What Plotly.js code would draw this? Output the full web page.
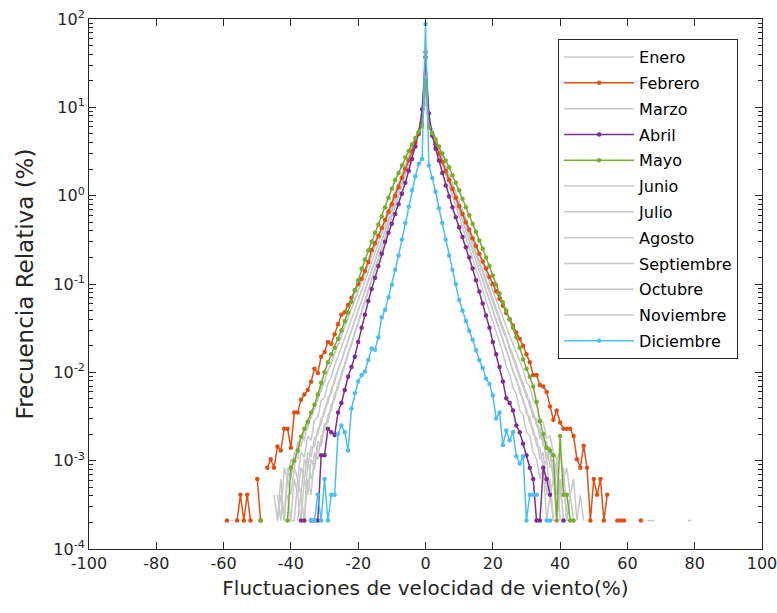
<!DOCTYPE html>
<html><head><meta charset="utf-8">
<script src="https://cdn.plot.ly/plotly-3.0.1.min.js"></script>
<style>html,body{margin:0;padding:0;background:#fff}#chart{width:777px;height:613px}</style>
</head><body><div id="chart"></div>
<script>
const n = null;
const N10 = [n,n,n,n,n,n,n,n,n,n];

// fluctuation bins (%)
const bins = [
 -60,-59,-58,-57,-56,-55,-54,-53,-52,-51,
 -50,-49,-48,-47,-46,-45,-44,-43,-42,-41,
 -40,-39,-38,-37,-36,-35,-34,-33,-32,-31,
 -30,-29,-28,-27,-26,-25,-24,-23,-22,-21,
 -20,-19,-18,-17,-16,-15,-14,-13,-12,-11,
 -10,-9,-8,-7,-6,-5,-4,-3,-2,-1,
 0,1,2,3,4,5,6,7,8,9,
 10,11,12,13,14,15,16,17,18,19,
 20,21,22,23,24,25,26,27,28,29,
 30,31,32,33,34,35,36,37,38,39,
 40,41,42,43,44,45,46,47,48,49,
 50,51,52,53,54,55,56,57,58,59,
 60,61,62,63,64,65,66,67,68,69,
 70,71,72,73,74,75,76,77,78,79,
 80
];

const months = ['Enero','Febrero','Marzo','Abril','Mayo','Junio','Julio','Agosto','Septiembre','Octubre','Noviembre','Diciembre'];

const enero = [
 ...N10,
 n,n,n,n,n,n,2.1e-4,4.1e-4,2.1e-4,6.2e-4,
 4.1e-4,8.3e-4,6.2e-4,1.24e-3,1.1e-3,1.9e-3,1.7e-3,2.9e-3,3.1e-3,4.8e-3,
 5.2e-3,7.5e-3,8.8e-3,0.012,0.015,0.019,0.0245,0.031,0.04,0.051,
 0.066,0.084,0.107,0.137,0.176,0.225,0.29,0.37,0.47,0.6,
 0.77,0.99,1.26,1.6,2.07,2.6,3.4,4.3,5.5,7.1,
 18,7.0,5.4,4.2,3.24,2.49,1.92,1.48,1.14,0.88,
 0.678,0.522,0.403,0.31,0.239,0.184,0.142,0.109,0.084,0.065,
 0.05,0.0385,0.0297,0.0229,0.0176,0.0136,0.0105,0.0081,0.0066,0.0046,
 0.0039,0.0027,0.0023,0.0015,0.0014,8.3e-4,1.04e-3,4.1e-4,6.2e-4,2.1e-4,
 4.1e-4,n,2.1e-4,2.1e-4,n,n,n,n,n,n,
 ...N10, ...N10, ...N10, n
];

const febrero = [
 n,2.1e-4,n,n,2.1e-4,4.1e-4,2.1e-4,4.1e-4,2.1e-4,n,
 6.2e-4,2.1e-4,n,8.3e-4,1.04e-3,8.3e-4,1.45e-3,1.3e-3,2.3e-3,2.3e-3,
 1.4e-3,3.5e-3,3.5e-3,4.9e-3,5.6e-3,6.3e-3,7.8e-3,0.011,0.0098,0.015,
 0.017,0.022,0.021,0.027,0.035,0.045,0.048,0.058,0.07,0.085,
 0.1,0.115,0.14,0.178,0.243,0.29,0.35,0.43,0.53,0.66,
 0.8,1.0,1.25,1.6,2.0,2.5,3.2,4.0,5.0,6.5,
 42,6.3,4.8,3.8,3.0,2.4,1.9,1.5,1.2,0.95,
 0.76,0.62,0.5,0.41,0.33,0.27,0.22,0.18,0.15,0.12,
 0.1,0.083,0.068,0.057,0.047,0.04,0.034,0.028,0.024,0.02,
 0.016,0.013,0.0093,0.0093,0.0072,0.0069,0.006,0.0041,0.0029,0.0037,
 0.0027,0.0023,0.0023,0.0023,0.0019,1.04e-3,8.3e-4,1.48e-3,8.3e-4,2.1e-4,
 6.2e-4,4.1e-4,6.2e-4,2.1e-4,4.1e-4,n,n,2.1e-4,2.1e-4,2.1e-4,
 n,n,n,n,2.1e-4,n,n,n,n,n,
 ...N10, n
];

const marzo = [
 ...N10,
 n,n,n,n,n,n,n,n,n,2.1e-4,
 2.1e-4,n,4.1e-4,2.1e-4,6.2e-4,4.1e-4,1.04e-3,8.3e-4,1.45e-3,1.5e-3,
 2.5e-3,2.8e-3,4.2e-3,5.1e-3,7.2e-3,9.2e-3,0.0121,0.016,0.0211,0.0278,
 0.0366,0.048,0.064,0.084,0.111,0.147,0.193,0.255,0.336,0.444,
 0.585,0.77,1.02,1.34,1.77,2.3,3.1,4.0,5.3,7.0,
 25,7.2,5.5,4.3,3.4,2.6,2.07,1.6,1.26,0.99,
 0.77,0.6,0.47,0.37,0.29,0.225,0.176,0.137,0.107,0.084,
 0.066,0.051,0.04,0.031,0.0245,0.019,0.015,0.0117,0.0091,0.0073,
 0.0054,0.0046,0.0032,0.0029,0.0019,0.0018,1.04e-3,1.24e-3,6.2e-4,8.3e-4,
 2.1e-4,n,n,n,n,n,n,n,n,n,
 ...N10, ...N10, ...N10, n
];

const abril = [
 ...N10,
 ...N10,
 n,n,n,2.1e-4,2.1e-4,n,2.1e-4,2.1e-4,2.1e-4,1.15e-3,
 1.15e-3,2.3e-3,2.1e-3,1.95e-3,3.5e-3,4.5e-3,6.3e-3,8.9e-3,0.0115,0.015,
 0.022,0.032,0.045,0.064,0.088,0.118,0.16,0.22,0.3,0.38,
 0.48,0.62,0.8,1.05,1.4,1.9,2.6,3.6,5.2,9.5,
 37,8.5,4.8,3.4,2.5,1.8,1.3,0.98,0.74,0.57,
 0.44,0.34,0.26,0.2,0.15,0.11,0.082,0.06,0.044,0.032,
 0.022,0.016,0.0115,0.0079,0.0051,0.0045,0.0037,0.0025,0.0021,0.00155,
 1.15e-3,8.3e-4,6.2e-4,2.1e-4,2.1e-4,8.3e-4,6.2e-4,4.1e-4,n,n,
 n,2.1e-4,n,n,n,n,n,n,n,n,
 ...N10, ...N10, ...N10, n
];

const mayo = [
 ...N10,
 n,2.1e-4,n,n,n,n,n,n,n,2.1e-4,
 8.3e-4,1.0e-3,1.3e-3,1.86e-3,2.3e-3,2.75e-3,3.5e-3,4.3e-3,5.6e-3,7.6e-3,
 0.01,0.013,0.016,0.019,0.024,0.03,0.038,0.048,0.063,0.085,
 0.11,0.15,0.19,0.24,0.3,0.38,0.47,0.58,0.74,0.95,
 1.2,1.5,1.8,2.2,2.7,3.2,3.8,4.5,5.3,6.2,
 20,6.0,5.1,4.3,3.6,3.0,2.5,2.1,1.7,1.4,
 1.15,0.92,0.74,0.6,0.48,0.39,0.31,0.25,0.2,0.16,
 0.125,0.098,0.078,0.062,0.05,0.04,0.032,0.025,0.019,0.014,
 0.011,0.0089,0.0069,0.0046,0.0028,0.002,0.0014,0.0013,0.00115,2.1e-4,
 0.0019,4.1e-4,4.1e-4,2.1e-4,2.1e-4,n,n,n,n,n,
 ...N10, ...N10, ...N10, n
];

const junio = [
 ...N10,
 n,n,n,n,2.1e-4,n,4.1e-4,2.1e-4,8.3e-4,6.2e-4,
 1.04e-3,8.3e-4,1.66e-3,1.45e-3,2.2e-3,2.3e-3,3.4e-3,3.8e-3,5.4e-3,6.2e-3,
 8.2e-3,0.0103,0.013,0.0164,0.0208,0.0262,0.0331,0.0418,0.0528,0.0667,
 0.084,0.106,0.134,0.169,0.214,0.27,0.341,0.431,0.544,0.687,
 0.868,1.1,1.38,1.75,2.2,2.8,3.5,4.4,5.6,7.1,
 15,7.0,5.6,4.4,3.5,2.8,2.2,1.75,1.38,1.1,
 0.868,0.687,0.544,0.431,0.341,0.27,0.214,0.169,0.134,0.106,
 0.084,0.0667,0.0528,0.0418,0.0331,0.0262,0.0208,0.0164,0.013,0.0108,
 0.0078,0.0068,0.0049,0.0043,0.003,0.0027,0.0018,0.0019,1.24e-3,1.04e-3,
 1.24e-3,6.2e-4,8.3e-4,4.1e-4,6.2e-4,2.1e-4,4.1e-4,2.1e-4,n,n,
 ...N10, ...N10, ...N10, n
];

const julio = [
 ...N10,
 ...N10,
 n,n,2.1e-4,4.1e-4,2.1e-4,1.04e-3,6.2e-4,8.3e-4,1.66e-3,1.45e-3,
 2.6e-3,2.7e-3,4.3e-3,5.0e-3,7.4e-3,8.8e-3,0.0125,0.016,0.0211,0.0278,
 0.0366,0.048,0.064,0.084,0.111,0.147,0.193,0.255,0.336,0.444,
 0.585,0.77,1.02,1.34,1.77,2.35,3.1,4.1,5.4,7.3,
 30,7.2,5.3,4.0,3.0,2.3,1.75,1.32,1.0,0.76,
 0.58,0.44,0.33,0.25,0.19,0.145,0.11,0.083,0.063,0.048,
 0.036,0.028,0.021,0.0165,0.0118,0.0095,0.0067,0.0056,0.0037,0.0033,
 0.0021,0.0019,1.24e-3,1.04e-3,6.2e-4,8.3e-4,2.1e-4,4.1e-4,2.1e-4,n,
 ...N10, ...N10, ...N10, ...N10, n
];

const agosto = [
 ...N10,
 n,n,n,n,n,n,n,2.1e-4,n,4.1e-4,
 2.1e-4,6.2e-4,4.1e-4,8.3e-4,6.2e-4,1.24e-3,1.1e-3,1.8e-3,2.0e-3,3.0e-3,
 3.4e-3,5.1e-3,5.8e-3,8.5e-3,0.0105,0.0136,0.0176,0.0229,0.0297,0.0385,
 0.05,0.0649,0.0843,0.109,0.142,0.184,0.239,0.31,0.403,0.522,
 0.678,0.88,1.14,1.48,1.92,2.49,3.24,4.2,5.46,7.0,
 22,7.1,5.5,4.3,3.4,2.6,2.07,1.6,1.26,0.99,
 0.77,0.6,0.47,0.37,0.29,0.225,0.176,0.137,0.107,0.084,
 0.066,0.051,0.04,0.031,0.0245,0.019,0.0148,0.012,0.0088,0.0074,
 0.0053,0.0046,0.0031,0.0029,0.0019,0.0017,1.04e-3,1.24e-3,6.2e-4,1.04e-3,
 4.1e-4,6.2e-4,2.1e-4,4.1e-4,n,2.1e-4,n,n,n,n,
 ...N10,
 n,n,n,n,n,n,2.1e-4,2.1e-4,2.1e-4,n,
 ...N10, n
];

const septiembre = [
 n,n,2.1e-4,2.1e-4,n,n,n,n,n,n,
 n,n,n,n,n,4.1e-4,2.1e-4,6.2e-4,2.1e-4,8.3e-4,
 6.2e-4,1.24e-3,1.04e-3,1.9e-3,1.7e-3,2.7e-3,3.0e-3,4.3e-3,4.8e-3,6.8e-3,
 7.8e-3,0.0107,0.0125,0.0168,0.02,0.026,0.033,0.041,0.052,0.066,
 0.083,0.105,0.132,0.168,0.21,0.27,0.34,0.43,0.54,0.68,
 0.86,1.08,1.38,1.72,2.2,2.75,3.5,4.4,5.5,6.9,
 12,7.0,5.4,4.25,3.35,2.6,2.05,1.6,1.25,0.98,
 0.76,0.6,0.46,0.37,0.285,0.22,0.175,0.135,0.106,0.083,
 0.065,0.05,0.04,0.03,0.025,0.0185,0.0155,0.0112,0.0095,0.0068,
 0.0059,0.0041,0.0036,0.0025,0.0023,1.45e-3,1.66e-3,8.3e-4,1.04e-3,4.1e-4,
 6.2e-4,2.1e-4,2.1e-4,n,n,n,n,n,n,n,
 ...N10, ...N10, ...N10, n
];

const octubre = [
 ...N10,
 ...N10,
 2.1e-4,2.1e-4,6.2e-4,4.1e-4,1.04e-3,8.3e-4,1.45e-3,1.45e-3,2.3e-3,2.6e-3,
 3.9e-3,4.5e-3,6.5e-3,7.7e-3,0.0108,0.0132,0.018,0.0225,0.03,0.038,
 0.051,0.064,0.085,0.108,0.143,0.182,0.24,0.31,0.4,0.52,
 0.68,0.87,1.15,1.47,1.93,2.5,3.25,4.25,5.5,7.2,
 28,7.1,5.5,4.3,3.4,2.6,2.05,1.6,1.27,0.98,
 0.78,0.6,0.48,0.365,0.29,0.228,0.174,0.138,0.106,0.085,
 0.065,0.052,0.039,0.032,0.024,0.0195,0.0145,0.0121,0.0087,0.0075,
 0.0052,0.0047,0.0031,0.003,0.0018,0.0019,1.04e-3,1.45e-3,6.2e-4,8.3e-4,
 4.1e-4,8.3e-4,2.1e-4,4.1e-4,2.1e-4,n,n,n,n,n,
 ...N10, ...N10,
 n,n,n,n,n,n,n,n,2.1e-4,2.1e-4,
 n
];

const noviembre = [
 ...N10,
 ...N10,
 n,n,n,n,2.1e-4,6.2e-4,4.1e-4,1.24e-3,1.04e-3,1.9e-3,
 2.1e-3,3.3e-3,3.7e-3,5.7e-3,6.6e-3,9.6e-3,0.0117,0.0165,0.0205,0.0285,
 0.036,0.049,0.063,0.085,0.11,0.148,0.192,0.256,0.335,0.445,
 0.59,0.77,1.02,1.34,1.77,2.34,3.1,4.05,5.4,7.1,
 20,7.0,5.45,4.2,3.25,2.5,1.92,1.48,1.14,0.88,
 0.68,0.52,0.4,0.31,0.24,0.184,0.142,0.109,0.084,0.065,
 0.05,0.0385,0.0297,0.023,0.0172,0.014,0.0101,0.0085,0.0059,0.005,
 0.0034,0.0031,0.002,0.0018,1.04e-3,1.24e-3,4.1e-4,6.2e-4,2.1e-4,2.1e-4,
 ...N10, ...N10, ...N10, ...N10, n
];

const diciembre = [
 ...N10,
 ...N10,
 n,n,n,n,n,n,2.1e-4,2.1e-4,4.1e-4,2.1e-4,
 6.2e-4,2.1e-4,4.1e-4,4.1e-4,2.0e-3,2.5e-3,2.1e-3,1.3e-3,3.9e-3,5.8e-3,
 7.9e-3,9.3e-3,0.0102,0.0138,0.0186,0.018,0.025,0.042,0.051,0.071,
 0.098,0.145,0.21,0.32,0.49,0.75,1.16,1.66,2.3,2.6,
 88,2.2,1.58,1.11,0.72,0.49,0.32,0.21,0.145,0.1,
 0.066,0.05,0.038,0.0295,0.0234,0.0178,0.0138,0.0112,0.0085,0.0074,
 0.0055,0.003,0.0035,0.0015,0.0022,0.0017,0.0021,0.00112,9.3e-4,1.12e-3,
 2.1e-4,4.1e-4,4.1e-4,4.1e-4,n,n,2.1e-4,2.1e-4,n,n,
 ...N10, ...N10, ...N10, ...N10, n
];

const xTickVals = [-100, -80, -60, -40, -20, 0, 20, 40, 60, 80, 100];
const xTickText = ['-100', '-80', '-60', '-40', '-20', '0', '20', '40', '60', '80', '100'];
const yTickVals = [1e-4, 1e-3, 1e-2, 1e-1, 1e0, 1e1, 1e2];
const yTickText = ['10<sup>-4</sup>','10<sup>-3</sup>','10<sup>-2</sup>','10<sup>-1</sup>','10<sup>0</sup>','10<sup>1</sup>','10<sup>2</sup>'];

const seriesValues = [enero, febrero, marzo, abril, mayo, junio, julio, agosto, septiembre, octubre, noviembre, diciembre];
const seriesColors = ['#c8c8c8','#D95319','#c8c8c8','#7E2F8E','#77AC30','#c8c8c8','#c8c8c8','#c8c8c8','#c8c8c8','#c8c8c8','#c8c8c8','#4DBEEE'];
const highlighted = [false,true,false,true,true,false,false,false,false,false,false,true];

seriesValues.forEach((s, i) => { if (s.length !== bins.length) console.error(months[i] + ' length ' + s.length); });

const FONT = 'DejaVu Sans, Arial, sans-serif';
const INK = '#262626';

const traces = [];
// gray months drawn first, highlighted months on top
const order = [];
highlighted.forEach((h, i) => { if (!h) order.push(i); });
highlighted.forEach((h, i) => { if (h) order.push(i); });
order.forEach(i => {
  const tr = {
    type: 'scatter',
    x: bins,
    y: seriesValues[i],
    name: months[i],
    legendgroup: months[i],
    legendrank: i + 1,
    connectgaps: false,
    line: { color: seriesColors[i], width: 1.5 },
    mode: highlighted[i] ? 'lines+markers' : 'lines',
    hoverinfo: 'skip'
  };
  if (highlighted[i]) tr.marker = { color: seriesColors[i], size: 4.5 };
  traces.push(tr);
});

const layout = {
  width: 777, height: 613,
  margin: { l: 89, r: 15, t: 19, b: 64, pad: 0 },
  paper_bgcolor: '#ffffff', plot_bgcolor: '#ffffff',
  font: { family: FONT, color: INK, size: 16 },
  showlegend: true,
  legend: {
    x: 0.697, y: 0.962, xanchor: 'left', yanchor: 'top',
    bgcolor: '#ffffff', bordercolor: INK, borderwidth: 1,
    font: { family: FONT, size: 16, color: '#000000' },
    tracegroupgap: 2, itemwidth: 70
  },
  xaxis: {
    range: [-100, 100],
    tickmode: 'array', tickvals: xTickVals, ticktext: xTickText,
    ticklabeloverflow: 'allow',
    ticks: 'inside', ticklen: 7, tickwidth: 1, tickcolor: INK,
    showline: true, linecolor: INK, linewidth: 1, mirror: 'ticks',
    zeroline: false, showgrid: false,
    tickfont: { family: FONT, size: 16, color: INK },
    title: { text: 'Fluctuaciones de velocidad de viento(%)', font: { family: FONT, size: 20, color: INK }, standoff: 8 }
  },
  yaxis: {
    type: 'log', range: [-4, 2],
    tickmode: 'array', tickvals: yTickVals, ticktext: yTickText,
    ticks: 'inside', ticklen: 7, tickwidth: 1, tickcolor: INK,
    minor: { ticks: 'inside', ticklen: 4, tickcolor: INK, dtick: 'D1', showgrid: false },
    showline: true, linecolor: INK, linewidth: 1, mirror: 'ticks',
    zeroline: false, showgrid: false,
    tickfont: { family: FONT, size: 16, color: INK },
    title: { text: 'Frecuencia Relativa (%)', font: { family: FONT, size: 23, color: INK }, standoff: 13 }
  }
};

Plotly.newPlot('chart', traces, layout, { displayModeBar: false, staticPlot: true });
</script>
</body></html>
